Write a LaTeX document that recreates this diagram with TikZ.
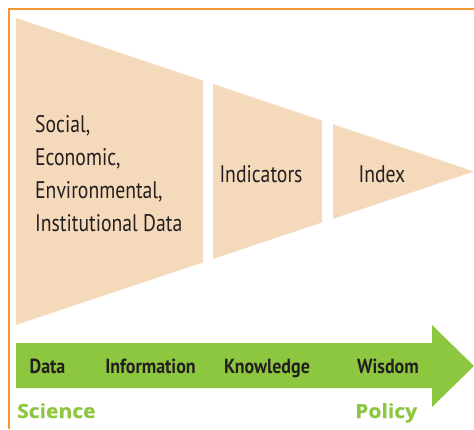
\documentclass[tikz,border=0pt]{standalone}
\usepackage{fontspec}
\newfontfamily\condfont[FakeStretch=0.82]{PT Sans}
\newfontfamily\condboldfont[FakeStretch=0.88]{PT Sans Bold}
\newfontfamily\headfont[FakeStretch=1.08, FakeBold=0.6]{Open Sans}
\definecolor{peach}{RGB}{245,217,187}
\definecolor{leaf}{RGB}{141,198,63}
\definecolor{frameorange}{RGB}{244,150,50}
\definecolor{ink}{RGB}{35,31,32}
\tikzset{
  boxtext/.style={inner sep=0pt, text=ink, font=\condfont\fontsize{24}{33}\selectfont},
  steplabel/.style={inner sep=0pt, text=ink, font=\condboldfont\fontsize{20.4}{22}\selectfont, anchor=base},
  endlabel/.style={inner sep=0pt, text=leaf, font=\headfont\bfseries\fontsize{19.5}{22}\selectfont, anchor=base west},
}
\begin{document}
\begin{tikzpicture}[x=1pt,y=-1pt]
\useasboundingbox (0,0) rectangle (474,429);
% frame lines
\draw[frameorange, line width=1.6pt] (474,9) -- (9,9) -- (9,429);
% funnel split into three sections
\begin{scope}
  \clip (16,18) -- (474,171.5) -- (16,325) -- cycle;
  \fill[peach] (16,0) rectangle (203,429);
  \fill[peach] (212.7,0) rectangle (322,429);
  \fill[peach] (332.7,0) rectangle (480,429);
\end{scope}
% green arrow
\fill[leaf] (16,343) -- (432,343) -- (432,325) -- (474,366) -- (432,407) -- (432,388) -- (16,388) -- cycle;
% funnel texts (base anchor sits on the last line)
\node[boxtext, anchor=base west, align=left] (data) at (35,231)
  {Social,\\Economic,\\Environmental,\\Institutional Data};
\node[boxtext, anchor=base] (ind) at (261,182.5) {Indicators};
\node[boxtext, anchor=base] (idx) at (382,182.5) {Index};
% arrow texts
\node[steplabel] (s1) at (47.5,373.5) {Data};
\node[steplabel] (s2) at (150.5,373.5) {Information};
\node[steplabel] (s3) at (267,373.5) {Knowledge};
\node[steplabel] (s4) at (388,373.5) {Wisdom};
\node[endlabel] (sci) at (17,418) {Science};
\node[endlabel] (pol) at (355,418) {Policy};
\end{tikzpicture}
\end{document}
